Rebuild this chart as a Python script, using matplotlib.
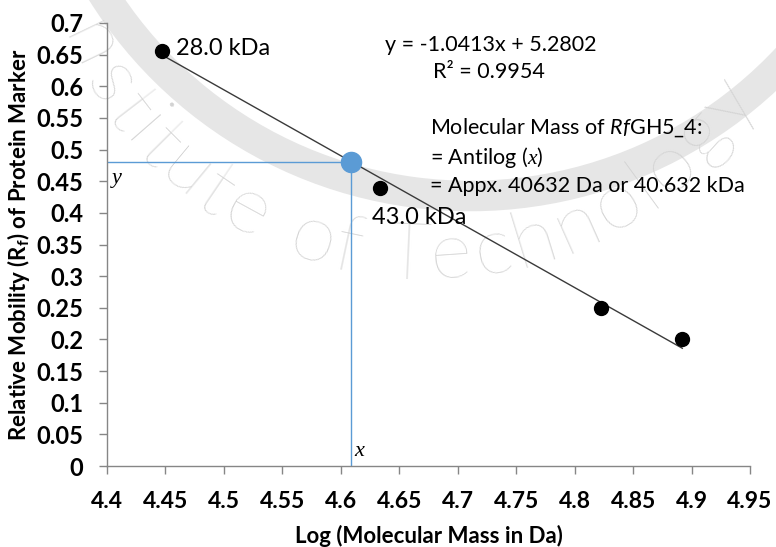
import numpy as np
import matplotlib
matplotlib.use("Agg")
import matplotlib.pyplot as plt
from matplotlib.patches import Arc
from matplotlib.transforms import IdentityTransform

# protein marker bands: mass (Da) and relative mobility
marker_mass_da = [28000, 43000, 66500, 78000]
marker_rf = [0.656, 0.44, 0.25, 0.2]
marker_labels = ["28.0 kDa", "43.0 kDa", "", ""]

# linear fit of Rf against log(mass)
slope = -1.0413
intercept = 5.2802
r_squared = 0.9954

# unknown protein
sample_mass_da = 40632

x_ticks = [4.4, 4.45, 4.5, 4.55, 4.6, 4.65, 4.7, 4.75, 4.8, 4.85, 4.9, 4.95]
y_ticks = [0, 0.05, 0.1, 0.15, 0.2, 0.25, 0.3, 0.35, 0.4, 0.45, 0.5, 0.55, 0.6, 0.65, 0.7]

plt.rcParams["font.family"] = ["Lato", "DejaVu Sans"]
plt.rcParams["mathtext.fontset"] = "custom"
plt.rcParams["mathtext.rm"] = "Lato"
plt.rcParams["mathtext.bf"] = "Lato:bold"
plt.rcParams["mathtext.sf"] = "Lato:italic"
plt.rcParams["mathtext.it"] = "Liberation Serif:italic"

W, H = 776, 547
fig = plt.figure(figsize=(W / 100, H / 100), dpi=100)
px = IdentityTransform()

# faint watermark behind the chart (pixel coordinates)
fig.patches.append(Arc((470, H + 238), 868, 868, theta1=200, theta2=325,
                       transform=px, color="#e6e6e6", lw=22, zorder=-2))
wm = "Institute of Technology"
narrow = {"I": .5, "i": .45, "l": .45, "t": .6, "f": .6, " ": .6, "s": .9,
          "T": .9, "c": .9, "y": .9}
w = np.array([narrow.get(c, 1.0) for c in wm])
centers = np.cumsum(w) - w / 2
ang = -118.6 + (centers - centers[8]) * (83.1 / (centers[22] - centers[8]))
for ch, a in zip(wm, np.radians(ang)):
    lx = 425 + 372 * np.cos(a)
    ly = H + 115 + 372 * np.sin(a)
    if ly > H - 25:
        continue  # falls off the top edge
    fig.text(lx, ly, ch, transform=px, fontsize=58, color="#d2d2d2",
             ha="center", va="center", rotation=np.degrees(a) + 90,
             rotation_mode="anchor", fontweight="light", zorder=-1)

ax = fig.add_axes([107 / W, 1 - 466 / H, (750 - 107) / W, (466 - 23) / H])
ax.patch.set_alpha(0)

log_mass = np.log10(marker_mass_da)
ax.scatter(log_mass, marker_rf, s=100, color="black", zorder=4)

fit_x = np.array([log_mass.min(), log_mass.max()])
ax.plot(fit_x, slope * fit_x + intercept, color="#3a3a3a", lw=1.0, zorder=3)

sx = np.log10(sample_mass_da)
sy = slope * sx + intercept
ax.plot([4.4, sx], [sy, sy], color="#5b9bd5", lw=1.0, zorder=2)
ax.plot([sx, sx], [0, sy], color="#5b9bd5", lw=1.0, zorder=2)
ax.scatter([sx], [sy], s=210, color="#5b9bd5", zorder=5)

ax.text(log_mass[0] + 0.012, marker_rf[0] + 0.004, marker_labels[0],
        fontsize=17, va="center", ha="left")
ax.text(log_mass[1] - 0.007, marker_rf[1] - 0.047, marker_labels[1],
        fontsize=17, va="center", ha="left")

notes = [
    (385, 45, f"y = {slope}x + {intercept}"),
    (433, 72, f"R² = {r_squared}"),
    (430, 128, r"Molecular Mass of $\mathsf{Rf}$GH5_4:"),
    (430, 157, r"= Antilog ($x$)"),
    (430, 186, f"= Appx. {sample_mass_da} Da or {sample_mass_da / 1000:.3f} kDa"),
]
for x, y, s in notes:
    ax.text(x, H - y, s, transform=px, fontsize=15.5, va="center", ha="left")

ax.text(4.404, sy - 0.012, "y", fontsize=16, va="top", ha="left",
        family="Liberation Serif", style="italic")
ax.text(sx + 0.003, 0.008, "x", fontsize=16, va="bottom", ha="left",
        family="Liberation Serif", style="italic")

ax.set_xlim(4.4, 4.95)
ax.set_ylim(0, 0.7)
ax.set_xticks(x_ticks)
ax.set_yticks(y_ticks)
ax.set_xticklabels([f"{v:g}" for v in x_ticks], fontweight="bold", fontsize=16.5)
ax.set_yticklabels([f"{v:g}" for v in y_ticks], fontweight="bold", fontsize=17)

for side in ["top", "right"]:
    ax.spines[side].set_visible(False)
for side in ["left", "bottom"]:
    ax.spines[side].set_color("#868686")
    ax.spines[side].set_linewidth(1.0)
ax.tick_params(axis="both", direction="out", length=6, width=1.0,
               color="#868686")
ax.tick_params(axis="y", pad=11)
ax.tick_params(axis="x", pad=12)

ax.set_xlabel("Log (Molecular Mass in Da)", fontsize=16, fontweight="bold",
              labelpad=9)
ax.set_ylabel(r"Relative Mobility (R$_\mathbf{f}$) of Protein Marker",
              fontsize=16, fontweight="bold", labelpad=3)

fig.savefig("out.png", dpi=100)
